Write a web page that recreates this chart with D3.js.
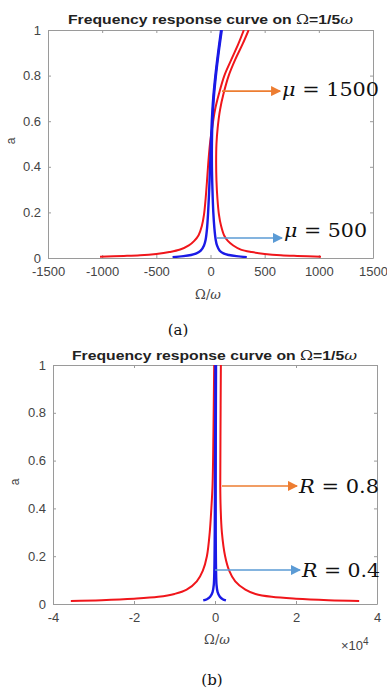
<!DOCTYPE html>
<html>
<head>
<meta charset="utf-8">
<script src="https://cdn.jsdelivr.net/npm/d3@7"></script>
<style>
body { margin: 0; background: #fff; }
svg { display: block; }
text { font-family: "Liberation Sans", Arial, sans-serif; }
</style>
</head>
<body>
<svg id="fig" width="387" height="693"></svg>
<script>
// tick values
var yTicks = [0, 0.2, 0.4, 0.6, 0.8, 1];
var xTicksA = [-1500, -1000, -500, 0, 500, 1000, 1500];
var xTicksB = [-40000, -20000, 0, 20000, 40000];
var xTickLabelsB = ["-4", "-2", "0", "2", "4"];

// panel (a): [Omega/omega, a]  mu = 1500 (red), mu = 500 (blue)
var redLeftA = [[-1020,0.006],[-800,0.009],[-650,0.012],[-500,0.018],[-380,0.026],[-280,0.037],[-200,0.055],[-150,0.075],[-110,0.10],[-80,0.14],[-60,0.19],[-45,0.26],[-32,0.34],[-20,0.42],[-5,0.50],[15,0.57],[42,0.65],[78,0.72],[128,0.80],[192,0.87],[258,0.94],[308,1.0]];
var redRightA = [[1020,0.006],[800,0.009],[650,0.012],[500,0.018],[380,0.026],[280,0.037],[210,0.055],[160,0.075],[125,0.10],[98,0.14],[78,0.19],[64,0.26],[55,0.34],[52,0.42],[55,0.50],[66,0.57],[88,0.65],[120,0.72],[168,0.80],[228,0.87],[298,0.94],[352,1.0]];
var blueLeftA = [[-350,0.004],[-250,0.008],[-180,0.013],[-130,0.02],[-90,0.032],[-60,0.055],[-45,0.08],[-32,0.13],[-22,0.2],[-12,0.3],[-4,0.4],[3,0.5],[12,0.6],[25,0.7],[45,0.8],[70,0.9],[98,1.0]];
var blueRightA = [[335,0.004],[240,0.008],[170,0.013],[120,0.02],[85,0.032],[60,0.055],[48,0.08],[36,0.13],[26,0.2],[18,0.3],[13,0.4],[13,0.5],[18,0.6],[30,0.7],[50,0.8],[75,0.9],[104,1.0]];

// panel (b): R = 0.8 (red), R = 0.4 (blue)
var redLeftB = [[-35600,0.013],[-28000,0.016],[-20000,0.022],[-14000,0.03],[-10000,0.042],[-7000,0.06],[-4500,0.095],[-3000,0.14],[-2000,0.2],[-1300,0.3],[-900,0.4],[-600,0.5],[-400,0.7],[-200,1.0]];
var redRightB = [[35600,0.013],[28000,0.016],[20000,0.022],[14000,0.03],[10000,0.042],[7500,0.06],[5000,0.095],[3500,0.14],[2500,0.2],[1700,0.3],[1400,0.4],[1300,0.5],[1350,0.7],[1450,1.0]];
var blueLeftB = [[-2900,0.015],[-2000,0.02],[-1200,0.03],[-600,0.05],[-300,0.08],[-150,0.15],[-60,0.3],[0,0.5],[60,0.75],[120,1.0]];
var blueRightB = [[2700,0.015],[1900,0.02],[1200,0.03],[650,0.05],[380,0.08],[250,0.15],[180,0.3],[170,0.5],[200,0.75],[250,1.0]];

// annotations: [symbol, value, x start, x end, a of arrow, a of text, colour, text width]
var notesA = [["μ", "1500", 106, 642, 0.732, 0.738, "#ed7d31", 97], ["μ", "500", 60, 660, 0.088, 0.123, "#5b9bd5", 83]];
var notesB = [["R", "0.8", 1728, 20247, 0.494, 0.494, "#ed7d31", 80], ["R", "0.4", 0, 20988, 0.142, 0.142, "#5b9bd5", 78]];

var RED = "#f0161b", BLUE = "#1a1ae6";
var svg = d3.select("#fig");

var defs = svg.append("defs");
["#ed7d31", "#5b9bd5"].forEach(function(c, i) {
  defs.append("marker").attr("id", "arr" + i)
    .attr("viewBox", "0 0 10 10").attr("refX", 9).attr("refY", 5)
    .attr("markerWidth", 10).attr("markerHeight", 10).attr("markerUnits", "userSpaceOnUse")
    .attr("orient", "auto")
    .append("path").attr("d", "M0,0L10,5L0,10z").attr("fill", c);
});

function panel(box, xDomain, xTicks, xLabels, curves, notes, id) {
  var x = d3.scaleLinear().domain(xDomain).range([box.left, box.right]);
  var y = d3.scaleLinear().domain([0, 1]).range([box.bottom, box.top]);

  var fmt = function(d, i) { return xLabels ? xLabels[i] : d; };

  var ax = svg.append("g").attr("transform", "translate(0," + box.bottom + ")")
    .call(d3.axisBottom(x).tickValues(xTicks).tickFormat(fmt).tickSizeInner(-3).tickSizeOuter(0).tickPadding(9));
  var axTop = svg.append("g").attr("transform", "translate(0," + box.top + ")")
    .call(d3.axisTop(x).tickValues(xTicks).tickFormat("").tickSizeInner(-3).tickSizeOuter(0));
  var ay = svg.append("g").attr("transform", "translate(" + box.left + ",0)")
    .call(d3.axisLeft(y).tickValues(yTicks).tickFormat(function(d) { return d; }).tickSizeInner(-3).tickSizeOuter(0).tickPadding(7));
  var ayR = svg.append("g").attr("transform", "translate(" + box.right + ",0)")
    .call(d3.axisRight(y).tickValues(yTicks).tickFormat("").tickSizeInner(-3).tickSizeOuter(0));

  [ax, axTop, ay, ayR].forEach(function(g) {
    g.select(".domain").attr("stroke", "#9a9a9a");
    g.selectAll(".tick line").attr("stroke", "#9a9a9a");
    g.selectAll(".tick text").attr("fill", "#444").style("font-size", "13px")
      .style("font-family", "'Liberation Sans', Arial, sans-serif");
  });

  svg.append("clipPath").attr("id", "clip" + id).append("rect")
    .attr("x", box.left).attr("y", box.top)
    .attr("width", box.right - box.left).attr("height", box.bottom - box.top);

  var line = d3.line().x(function(d) { return x(d[0]); }).y(function(d) { return y(d[1]); })
    .curve(d3.curveCatmullRom);

  var g = svg.append("g").attr("clip-path", "url(#clip" + id + ")");
  curves.forEach(function(c) {
    g.append("path").datum(c.data).attr("d", line)
      .attr("fill", "none").attr("stroke", c.color).attr("stroke-width", c.width);
  });

  notes.forEach(function(n) {
    var mk = n[6] == "#ed7d31" ? "url(#arr0)" : "url(#arr1)";
    svg.append("line")
      .attr("x1", x(n[2])).attr("x2", x(n[3]))
      .attr("y1", y(n[4])).attr("y2", y(n[4]))
      .attr("stroke", n[6]).attr("stroke-width", 1.6)
      .attr("marker-end", mk);
    var t = svg.append("text").attr("x", x(n[3]) + 2).attr("y", y(n[5])).attr("dy", "0.35em")
      .attr("textLength", n[7]).attr("lengthAdjust", "spacingAndGlyphs")
      .style("font-family", "'DejaVu Serif', serif").style("font-size", "19px").attr("fill", "#111");
    t.append("tspan").style("font-style", "italic").text(n[0]);
    t.append("tspan").text(" = " + n[1]);
  });

  return {x: x, y: y};
}

function title(cx, cy) {
  var t = svg.append("text").attr("x", cx - 142).attr("y", cy)
    .attr("textLength", 285).attr("lengthAdjust", "spacingAndGlyphs")
    .attr("dy", "0.35em").style("font-size", "13px").style("font-weight", "bold").attr("fill", "#222");
  t.append("tspan").text("Frequency response curve on ");
  t.append("tspan").style("font-family", "'DejaVu Serif', serif").style("font-weight", "normal").text("Ω");
  t.append("tspan").text("=1/5");
  t.append("tspan").style("font-family", "'DejaVu Serif', serif").style("font-weight", "normal").style("font-style", "italic").text("ω");
}

function xlabel(cx, cy) {
  var t = svg.append("text").attr("x", cx).attr("y", cy).attr("text-anchor", "middle")
    .attr("dy", "0.35em").style("font-size", "13px").attr("fill", "#444")
    .style("font-family", "'DejaVu Serif', serif");
  t.append("tspan").text("Ω/");
  t.append("tspan").style("font-style", "italic").text("ω");
}

function ylabel(cx, cy) {
  svg.append("text").attr("transform", "translate(" + cx + "," + cy + ") rotate(-90)")
    .attr("text-anchor", "middle").attr("dy", "0.35em").style("font-size", "12px")
    .attr("fill", "#444").text("a");
}

function caption(cx, cy, s) {
  svg.append("text").attr("x", cx).attr("y", cy).attr("text-anchor", "middle").attr("dy", "0.35em")
    .style("font-family", "'DejaVu Serif', serif").style("font-size", "15px").attr("fill", "#111").text(s);
}

// panel (a)
title(210, 19);
panel({left: 48, right: 373, top: 30, bottom: 258}, [-1500, 1500], xTicksA, null, [
  {data: redLeftA, color: RED, width: 2},
  {data: redRightA, color: RED, width: 2},
  {data: blueLeftA, color: BLUE, width: 2.4},
  {data: blueRightA, color: BLUE, width: 2.4}
], notesA, "a");
xlabel(208, 294);
ylabel(11, 141);
caption(178, 330, "(a)");

// panel (b)
title(214, 355);
panel({left: 53, right: 377, top: 365, bottom: 604}, [-40000, 40000], xTicksB, xTickLabelsB, [
  {data: redLeftB, color: RED, width: 2},
  {data: redRightB, color: RED, width: 2},
  {data: blueLeftB, color: BLUE, width: 2.4},
  {data: blueRightB, color: BLUE, width: 2.4}
], notesB, "b");
xlabel(217, 639);
ylabel(15, 482);
var m = svg.append("text").attr("x", 341).attr("y", 650).style("font-size", "13px").attr("fill", "#444");
m.append("tspan").text("×10");
m.append("tspan").attr("dy", -5).style("font-size", "10px").text("4");
caption(212, 680, "(b)");
</script>
</body>
</html>
